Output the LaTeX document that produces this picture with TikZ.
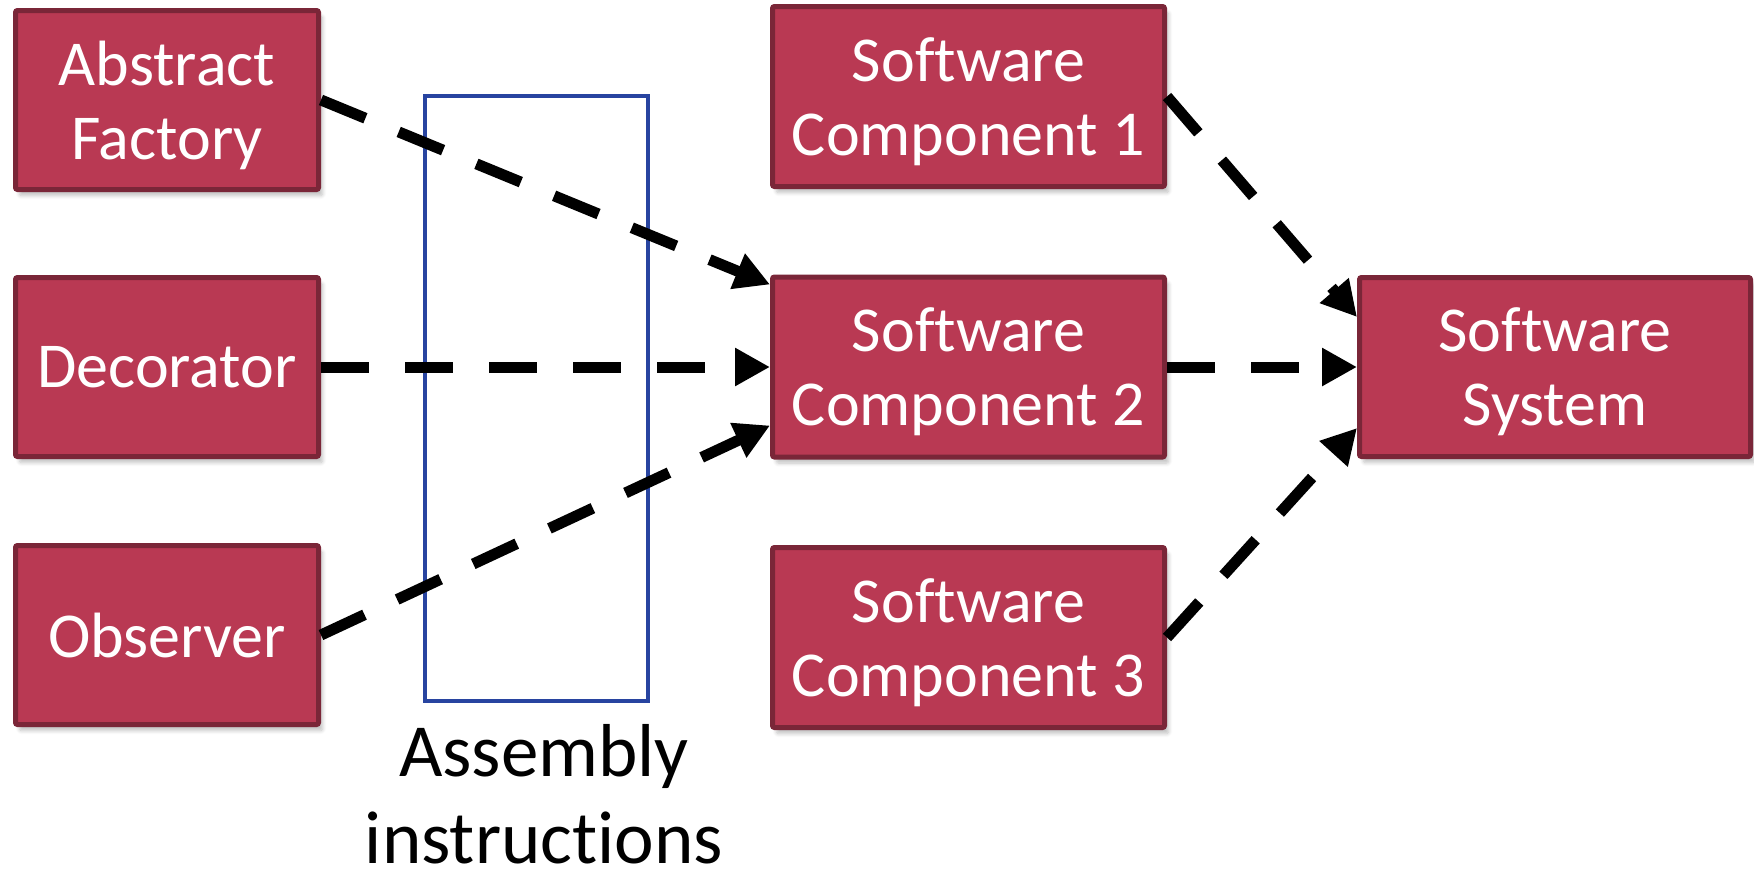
\documentclass[tikz,border=0pt]{standalone}
\usepackage{fontspec}
\setmainfont{Carlito}[Ligatures=NoCommon]
\usetikzlibrary{arrows.meta,shadows.blur}
\definecolor{boxfill}{RGB}{185,57,83}
\definecolor{boxline}{RGB}{122,38,56}
\definecolor{asmblue}{RGB}{40,68,160}
\tikzset{
  pbox/.style={draw=boxline, fill=boxfill, line width=2.5pt, rounded corners=1pt,
    text=white, align=center, inner sep=0pt, text depth=0pt,
    font=\fontsize{32}{37}\selectfont,
    blur shadow={shadow xshift=2pt, shadow yshift=-3pt, shadow blur steps=6, shadow opacity=25}},
  narrowbox/.style={pbox, minimum width=151.5pt, minimum height=89.5pt},
  widebox/.style={pbox, minimum width=196pt, minimum height=90pt},
  conn/.style={line width=5.5pt, dash pattern=on 24pt off 18pt,
    -{Triangle[length=17.5pt,width=18pt]}},
}
\begin{document}
\begin{tikzpicture}[x=0.5pt,y=-0.5pt]
\useasboundingbox (0,0) rectangle (1754,873);
\node[draw=asmblue, line width=2pt, minimum width=111.5pt, minimum height=302.5pt, inner sep=0pt] (asm) at (536.5,398.5) {};
\node[anchor=south, align=center, inner sep=0pt, text depth=0pt, font=\fontsize{37.5}{43.5}\selectfont] (asmlabel) at (544,864) {Assembly\\instructions};
\node[narrowbox] (af) at (167,100) {Abstract\\Factory};
\node[narrowbox] (dec) at (167,367) {Decorator};
\node[narrowbox] (obs) at (167,635) {Observer};
\node[widebox] (sc1) at (968.5,96.5) {Software\\Component 1};
\node[widebox] (sc2) at (968.5,367) {Software\\Component 2};
\node[widebox] (sc3) at (968.5,637.5) {Software\\Component 3};
\node[pbox, minimum width=195.5pt, minimum height=89.5pt] (ss) at (1555,367) {Software\\System};
\draw[conn] (af.east) -- ([yshift=-5pt]sc2.north west);
\draw[conn] (dec.east) -- (sc2.west);
\draw[conn] (obs.east) -- ([yshift=17pt]sc2.south west);
\draw[conn] (sc1.east) -- ([yshift=-21pt]ss.north west);
\draw[conn] (sc2.east) -- (ss.west);
\draw[conn] (sc3.east) -- ([yshift=15.5pt]ss.south west);
\end{tikzpicture}
\end{document}
